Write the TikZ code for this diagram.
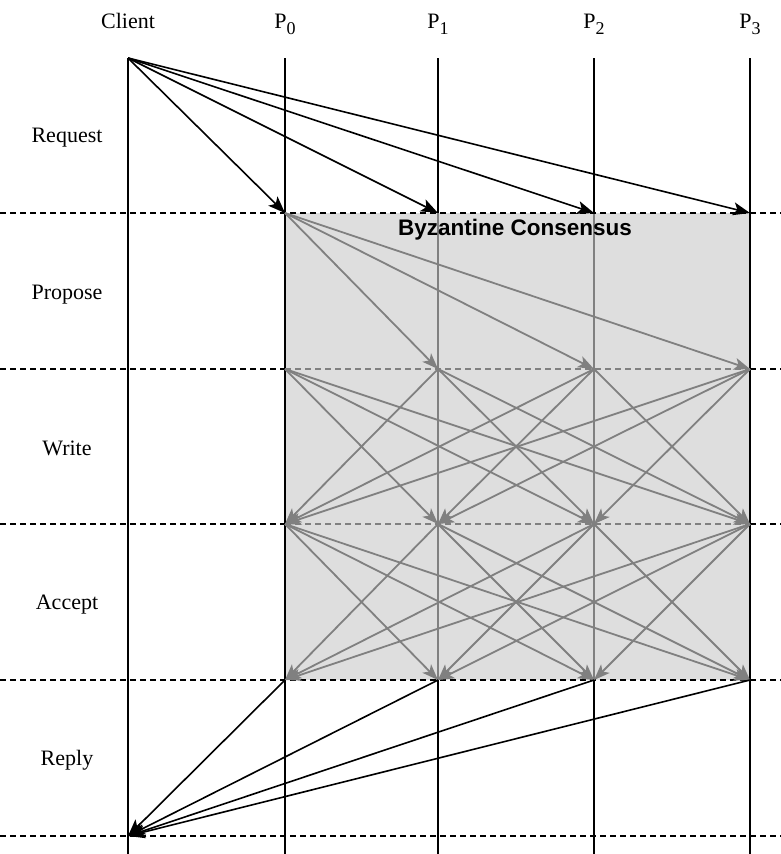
\documentclass[tikz,border=0pt]{standalone}
\usepackage{fontspec}
\setmainfont{Liberation Serif}
\setsansfont{Liberation Sans}
\usetikzlibrary{arrows.meta}
\definecolor{boxfill}{RGB}{222,222,222}
\definecolor{msggray}{RGB}{128,128,128}
\newcommand{\procsub}[1]{P\raisebox{-6pt}{\fontsize{18}{18}\selectfont #1}}
\begin{document}
\begin{tikzpicture}[x=1pt,y=-1pt,
  lifeline/.style={black,line width=1.3pt},
  innerline/.style={msggray,line width=1.3pt},
  phase/.style={black,line width=1.5pt,dash pattern=on 6pt off 4pt},
  innerphase/.style={msggray,line width=1.5pt,dash pattern=on 6pt off 4pt},
  blkmsg/.style={black,line width=1.6pt,-{Stealth[length=17pt,width=13pt,inset=4pt]}},
  grymsg/.style={msggray,line width=1.8pt,-{Stealth[length=16pt,width=12pt,inset=4pt]}},
  hdr/.style={font=\fontsize{22}{22}\selectfont,anchor=base},
  phlabel/.style={font=\fontsize{22}{22}\selectfont}
]
\useasboundingbox (0,0) rectangle (781,854);
% coordinates
\coordinate (Ctop) at (128,58);
\coordinate (Cbot) at (128,836);
\foreach \i/\x in {0/285,1/438,2/594,3/750}{
  \coordinate (P\i top) at (\x,58);
  \coordinate (P\i end) at (\x,854);
  \foreach \k/\y in {1/213,2/369,3/524,4/680}{
    \coordinate (P\i-\k) at (\x,\y);
  }
}
\coordinate (Cend) at (128,854);
% box
\fill[boxfill] (P0-1) rectangle (P3-4);
% lifelines
\draw[lifeline] (Ctop) -- (Cend);
\draw[lifeline] (P0top) -- (P0end);
\draw[lifeline] (P3top) -- (P3end);
\foreach \i in {1,2}{
  \draw[lifeline] (P\i top) -- (P\i-1);
  \draw[innerline] (P\i-1) -- (P\i-4);
  \draw[lifeline] (P\i-4) -- (P\i end);
}
% phase lines
\foreach \y in {213,680,836}{
  \draw[phase] (0,\y) -- (781,\y);
}
\foreach \y in {369,524}{
  \draw[phase] (0,\y) -- (285,\y);
  \draw[innerphase] (285,\y) -- (750,\y);
  \draw[phase] (750,\y) -- (781,\y);
}
% headers
\node[hdr] (hC) at (128,28) {Client};
\foreach \i/\x in {0/285,1/438,2/594,3/750}{
  \node[hdr] (h\i) at (\x,28) {\procsub{\i}};
}
% phase labels
\node[phlabel] (lReq) at (67,138) {Request};
\node[phlabel] (lProp) at (67,295) {Propose};
\node[phlabel] (lWrite) at (67,448) {Write};
\node[phlabel] (lAcc) at (67,605) {Accept};
\node[phlabel] (lRep) at (67,760) {Reply};
\node[font=\sffamily\bfseries\fontsize{22.5}{22.5}\selectfont] (bc) at (515,230) {Byzantine Consensus};
% request
\foreach \i in {0,1,2,3}{
  \draw[blkmsg] (Ctop) -- (P\i-1);
}
% propose
\foreach \j in {1,2,3}{
  \draw[grymsg] (P0-1) -- (P\j-2);
}
% write and accept
\foreach \i in {0,1,2,3}{
  \foreach \j in {0,1,2,3}{
    \ifnum\i=\j\else
      \draw[grymsg] (P\i-2) -- (P\j-3);
      \draw[grymsg] (P\i-3) -- (P\j-4);
    \fi
  }
}
% reply
\foreach \i in {0,1,2,3}{
  \draw[blkmsg] (P\i-4) -- (Cbot);
}
\end{tikzpicture}
\end{document}
